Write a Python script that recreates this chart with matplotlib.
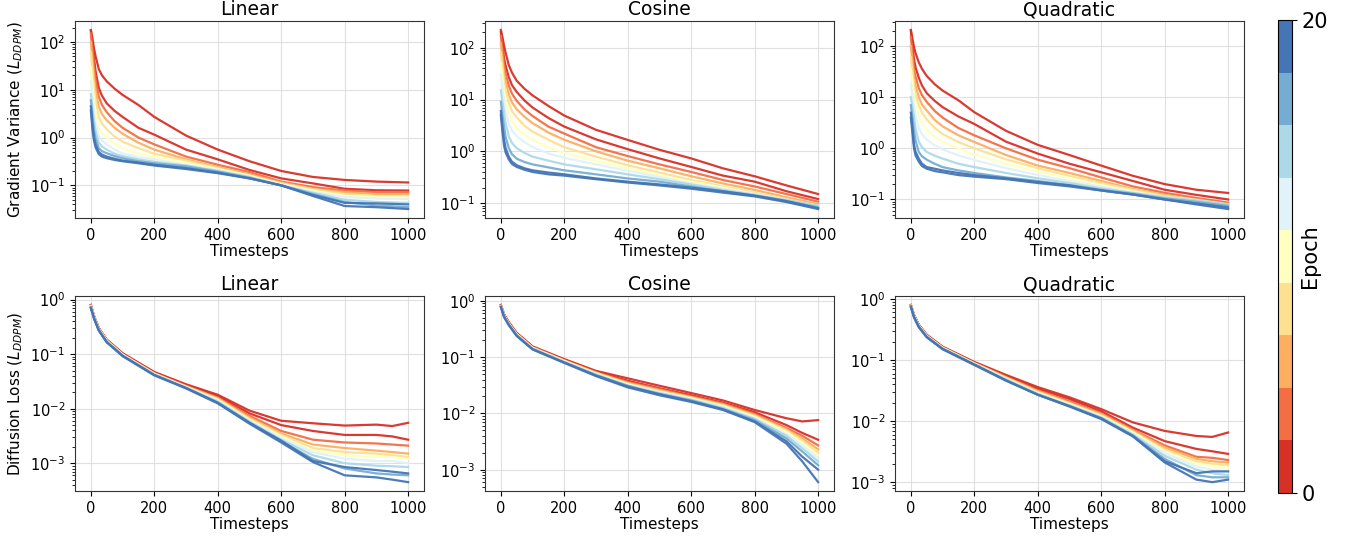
import matplotlib
matplotlib.use("Agg")
import matplotlib.pyplot as plt
from matplotlib.colors import ListedColormap, Normalize
from matplotlib.cm import ScalarMappable

# ---------------- data ----------------
epochs = [0, 2, 4, 6, 8, 10, 12, 14, 16, 18, 20]
t_top = [0, 5, 10, 15, 25, 35, 50, 75, 100, 150, 200, 300, 400, 500, 600, 700, 800, 900, 1000]
t_bot = [0, 10, 25, 50, 100, 200, 300, 400, 500, 600, 700, 800, 900, 950, 1000]
schedules = ["Linear", "Cosine", "Quadratic"]

gv_linear = [
    [178, 120, 72, 50, 27, 20, 15, 10.5, 7.8, 4.8, 2.7, 1.1, 0.56, 0.32, 0.2, 0.15, 0.13, 0.12, 0.115],
    [170, 90, 45, 24, 11, 7.5, 5.2, 3.6, 2.7, 1.6, 1.15, 0.56, 0.35, 0.21, 0.14, 0.11, 0.085, 0.079, 0.078],
    [150, 70, 30, 16, 7.2, 4.8, 3.4, 2.2, 1.6, 1.0, 0.72, 0.4, 0.27, 0.19, 0.12, 0.092, 0.078, 0.072, 0.072],
    [100, 42, 18, 9.5, 4.4, 3.1, 2.3, 1.6, 1.2, 0.78, 0.56, 0.35, 0.24, 0.17, 0.115, 0.085, 0.072, 0.066, 0.066],
    [60, 26, 11, 5.8, 2.7, 1.95, 1.5, 1.05, 0.82, 0.6, 0.46, 0.33, 0.23, 0.16, 0.11, 0.083, 0.066, 0.06, 0.06],
    [30, 13, 6, 3.3, 1.6, 1.25, 1.0, 0.75, 0.6, 0.47, 0.39, 0.3, 0.22, 0.16, 0.105, 0.078, 0.06, 0.057, 0.056],
    [15, 7, 3.5, 2.0, 1.08, 0.87, 0.72, 0.56, 0.47, 0.39, 0.35, 0.27, 0.21, 0.15, 0.105, 0.074, 0.057, 0.053, 0.052],
    [8, 4, 2.2, 1.35, 0.78, 0.65, 0.56, 0.46, 0.41, 0.35, 0.31, 0.26, 0.2, 0.15, 0.1, 0.07, 0.05, 0.045, 0.043],
    [6, 2.7, 1.4, 0.95, 0.6, 0.52, 0.47, 0.41, 0.37, 0.32, 0.29, 0.25, 0.195, 0.145, 0.1, 0.066, 0.045, 0.038, 0.035],
    [4.5, 1.9, 1.0, 0.72, 0.5, 0.44, 0.4, 0.36, 0.33, 0.3, 0.27, 0.23, 0.185, 0.14, 0.1, 0.063, 0.043, 0.042, 0.04],
    [3.7, 1.5, 0.85, 0.62, 0.45, 0.4, 0.37, 0.34, 0.32, 0.29, 0.26, 0.22, 0.18, 0.14, 0.1, 0.06, 0.037, 0.035, 0.032],
]
gv_cosine = [
    [220, 160, 110, 80, 46, 33, 23, 16, 12, 7.5, 4.9, 2.6, 1.66, 1.07, 0.73, 0.47, 0.33, 0.22, 0.15],
    [200, 115, 62, 45, 27, 19, 14, 9.5, 7, 4.4, 3.0, 1.7, 1.1, 0.73, 0.5, 0.34, 0.26, 0.17, 0.12],
    [170, 90, 46, 32, 18.5, 13, 9.4, 6.4, 4.8, 3.0, 2.2, 1.2, 0.81, 0.56, 0.4, 0.28, 0.21, 0.15, 0.107],
    [120, 62, 31, 22, 12.6, 8.8, 6.5, 4.6, 3.5, 2.3, 1.67, 1.0, 0.66, 0.47, 0.33, 0.24, 0.18, 0.13, 0.096],
    [80, 42, 21, 15, 8.7, 6, 4.5, 3.1, 2.4, 1.67, 1.2, 0.79, 0.54, 0.39, 0.28, 0.21, 0.16, 0.12, 0.089],
    [50, 27, 14, 9.5, 5.6, 3.8, 2.8, 2.1, 1.67, 1.2, 0.94, 0.65, 0.47, 0.34, 0.26, 0.2, 0.15, 0.115, 0.085],
    [30, 17, 9.4, 6, 3.5, 2.5, 1.95, 1.5, 1.2, 0.91, 0.75, 0.56, 0.42, 0.32, 0.24, 0.19, 0.15, 0.115, 0.09],
    [15, 9, 5.6, 3.5, 1.95, 1.45, 1.15, 0.93, 0.79, 0.66, 0.56, 0.45, 0.36, 0.29, 0.23, 0.18, 0.145, 0.115, 0.09],
    [9, 5, 3.0, 1.9, 1.15, 0.88, 0.72, 0.62, 0.56, 0.49, 0.43, 0.36, 0.3, 0.26, 0.21, 0.17, 0.14, 0.11, 0.083],
    [6, 3, 1.67, 1.15, 0.79, 0.63, 0.54, 0.47, 0.43, 0.39, 0.36, 0.3, 0.26, 0.23, 0.2, 0.17, 0.14, 0.11, 0.08],
    [5, 2.4, 1.3, 0.95, 0.7, 0.57, 0.5, 0.44, 0.4, 0.36, 0.34, 0.29, 0.25, 0.22, 0.19, 0.16, 0.135, 0.105, 0.077],
]
gv_quadratic = [
    [207, 140, 95, 72, 48, 36, 26, 18, 13.5, 8.7, 5.1, 2.2, 1.17, 0.74, 0.46, 0.29, 0.2, 0.155, 0.134],
    [200, 100, 55, 38, 24, 17, 12, 8.5, 6.4, 4.2, 3.0, 1.35, 0.79, 0.5, 0.34, 0.23, 0.155, 0.123, 0.1],
    [150, 72, 35, 25, 15, 11, 8.1, 5.4, 4.0, 2.5, 1.8, 1.0, 0.6, 0.41, 0.27, 0.18, 0.135, 0.107, 0.087],
    [100, 48, 24, 16.5, 10, 7.2, 5.5, 3.6, 2.7, 1.8, 1.33, 0.74, 0.46, 0.33, 0.23, 0.16, 0.123, 0.1, 0.082],
    [60, 31, 16, 11, 6.9, 5, 3.7, 2.5, 1.9, 1.33, 1.0, 0.61, 0.41, 0.29, 0.21, 0.155, 0.118, 0.098, 0.08],
    [35, 20, 11, 7.3, 4.3, 3.1, 2.3, 1.7, 1.33, 1.0, 0.76, 0.5, 0.35, 0.26, 0.19, 0.145, 0.11, 0.096, 0.078],
    [18, 11, 6.9, 4.3, 2.5, 1.9, 1.48, 1.15, 0.95, 0.73, 0.59, 0.41, 0.3, 0.23, 0.18, 0.138, 0.11, 0.096, 0.078],
    [10, 6.5, 4, 2.4, 1.35, 1.05, 0.85, 0.72, 0.63, 0.5, 0.43, 0.33, 0.26, 0.21, 0.165, 0.135, 0.11, 0.096, 0.08],
    [7, 4, 2.2, 1.4, 0.85, 0.7, 0.6, 0.5, 0.43, 0.37, 0.33, 0.27, 0.23, 0.19, 0.155, 0.13, 0.105, 0.09, 0.075],
    [5, 2.5, 1.17, 0.85, 0.63, 0.5, 0.43, 0.4, 0.37, 0.33, 0.3, 0.26, 0.22, 0.19, 0.15, 0.125, 0.1, 0.084, 0.07],
    [4, 2.0, 1.0, 0.72, 0.55, 0.45, 0.4, 0.36, 0.34, 0.3, 0.28, 0.25, 0.21, 0.18, 0.15, 0.125, 0.1, 0.08, 0.065],
]
dl_linear = [
    [0.8, 0.5, 0.3, 0.185, 0.104, 0.047, 0.028, 0.018, 0.0092, 0.006, 0.0054, 0.0049, 0.0051, 0.0048, 0.0055],
    [0.79, 0.49, 0.3, 0.182, 0.102, 0.046, 0.027, 0.017, 0.0082, 0.005, 0.0039, 0.0033, 0.0033, 0.0031, 0.0027],
    [0.78, 0.49, 0.295, 0.18, 0.1, 0.045, 0.026, 0.016, 0.0074, 0.0039, 0.0027, 0.0024, 0.0023, 0.0022, 0.0021],
    [0.77, 0.48, 0.29, 0.178, 0.099, 0.044, 0.026, 0.0155, 0.0069, 0.0035, 0.0022, 0.0019, 0.0017, 0.0016, 0.0015],
    [0.76, 0.48, 0.29, 0.176, 0.098, 0.044, 0.025, 0.015, 0.0065, 0.0033, 0.0019, 0.0016, 0.0015, 0.0014, 0.0013],
    [0.75, 0.47, 0.285, 0.174, 0.097, 0.043, 0.025, 0.0145, 0.0062, 0.0031, 0.0017, 0.0014, 0.0013, 0.0013, 0.0012],
    [0.74, 0.47, 0.28, 0.172, 0.096, 0.043, 0.025, 0.014, 0.006, 0.0029, 0.0016, 0.0012, 0.0011, 0.0011, 0.001],
    [0.73, 0.46, 0.28, 0.17, 0.095, 0.042, 0.024, 0.0135, 0.0058, 0.0027, 0.0014, 0.001, 0.0009, 0.00088, 0.00085],
    [0.72, 0.46, 0.275, 0.168, 0.094, 0.042, 0.024, 0.013, 0.0056, 0.0025, 0.0012, 0.0008, 0.00065, 0.00062, 0.0006],
    [0.71, 0.45, 0.275, 0.166, 0.093, 0.041, 0.024, 0.0128, 0.0055, 0.0026, 0.0011, 0.00085, 0.00075, 0.0007, 0.00065],
    [0.7, 0.45, 0.27, 0.165, 0.092, 0.041, 0.0235, 0.0125, 0.0053, 0.0024, 0.00105, 0.0006, 0.00055, 0.0005, 0.00045],
]
dl_cosine = [
    [0.85, 0.58, 0.42, 0.27, 0.155, 0.092, 0.057, 0.042, 0.031, 0.023, 0.017, 0.0115, 0.0082, 0.0072, 0.0076],
    [0.84, 0.57, 0.41, 0.265, 0.152, 0.09, 0.055, 0.038, 0.028, 0.021, 0.0155, 0.0105, 0.0062, 0.0045, 0.0034],
    [0.83, 0.56, 0.4, 0.26, 0.15, 0.088, 0.054, 0.036, 0.027, 0.02, 0.015, 0.0098, 0.0055, 0.004, 0.0027],
    [0.82, 0.55, 0.4, 0.258, 0.148, 0.087, 0.053, 0.035, 0.026, 0.0195, 0.0145, 0.0094, 0.0052, 0.0036, 0.0023],
    [0.81, 0.55, 0.39, 0.255, 0.146, 0.086, 0.052, 0.034, 0.025, 0.019, 0.014, 0.009, 0.005, 0.0033, 0.002],
    [0.8, 0.54, 0.39, 0.25, 0.145, 0.085, 0.051, 0.033, 0.024, 0.0185, 0.0135, 0.0087, 0.0047, 0.003, 0.0018],
    [0.8, 0.54, 0.385, 0.248, 0.143, 0.084, 0.05, 0.032, 0.024, 0.018, 0.013, 0.0083, 0.0043, 0.0027, 0.0016],
    [0.79, 0.53, 0.38, 0.245, 0.142, 0.082, 0.049, 0.031, 0.023, 0.0175, 0.0125, 0.008, 0.004, 0.0024, 0.0014],
    [0.79, 0.53, 0.38, 0.243, 0.14, 0.081, 0.048, 0.031, 0.022, 0.017, 0.012, 0.0076, 0.0036, 0.0021, 0.0012],
    [0.78, 0.52, 0.375, 0.24, 0.138, 0.08, 0.047, 0.03, 0.022, 0.0165, 0.0118, 0.0072, 0.0032, 0.0017, 0.001],
    [0.78, 0.52, 0.37, 0.238, 0.137, 0.079, 0.046, 0.029, 0.021, 0.016, 0.0115, 0.007, 0.0029, 0.0014, 0.0006],
]
dl_quadratic = [
    [0.8, 0.55, 0.38, 0.26, 0.165, 0.093, 0.057, 0.036, 0.0245, 0.0157, 0.0095, 0.0069, 0.0057, 0.0055, 0.0065],
    [0.79, 0.54, 0.375, 0.255, 0.163, 0.091, 0.055, 0.034, 0.023, 0.0145, 0.0078, 0.0047, 0.0035, 0.0032, 0.0029],
    [0.78, 0.54, 0.37, 0.252, 0.161, 0.09, 0.053, 0.032, 0.021, 0.0135, 0.0072, 0.004, 0.0026, 0.0025, 0.0023],
    [0.78, 0.53, 0.37, 0.25, 0.16, 0.089, 0.052, 0.031, 0.02, 0.013, 0.007, 0.0037, 0.0024, 0.0022, 0.0021],
    [0.77, 0.53, 0.365, 0.248, 0.158, 0.088, 0.051, 0.03, 0.0195, 0.0125, 0.0067, 0.0034, 0.0022, 0.002, 0.0019],
    [0.77, 0.52, 0.36, 0.246, 0.157, 0.087, 0.05, 0.029, 0.019, 0.012, 0.0065, 0.0032, 0.002, 0.0018, 0.0017],
    [0.76, 0.52, 0.36, 0.244, 0.155, 0.086, 0.049, 0.028, 0.0185, 0.0118, 0.0062, 0.003, 0.0018, 0.0016, 0.0015],
    [0.76, 0.51, 0.355, 0.242, 0.154, 0.085, 0.048, 0.028, 0.018, 0.0115, 0.006, 0.0027, 0.0016, 0.0014, 0.0013],
    [0.75, 0.51, 0.35, 0.24, 0.153, 0.085, 0.047, 0.027, 0.0178, 0.0112, 0.0058, 0.0024, 0.0013, 0.0012, 0.0012],
    [0.75, 0.5, 0.35, 0.238, 0.152, 0.084, 0.046, 0.027, 0.0175, 0.011, 0.0057, 0.0022, 0.0014, 0.0015, 0.0015],
    [0.74, 0.5, 0.345, 0.236, 0.15, 0.083, 0.046, 0.027, 0.0173, 0.0108, 0.0056, 0.0021, 0.0011, 0.001, 0.0011],
]

band_colors = ["#d73027", "#f46d43", "#fdae61", "#fee090", "#ffffbf",
               "#e0f3f8", "#abd9e9", "#74add1", "#4575b4"]

# ---------------- figure ----------------
W, H = 1346, 546
fig = plt.figure(figsize=(W / 100, H / 100), dpi=100)
cmap = ListedColormap(band_colors)
norm = Normalize(vmin=0, vmax=20)

col_left = [75, 485, 895]
ax_w = 349
rows = [(21, 218), (296, 491)]


def make_ax(x0, y0, y1):
    return fig.add_axes([x0 / W, 1 - y1 / H, ax_w / W, (y1 - y0) / H])


panels_top = [gv_linear, gv_cosine, gv_quadratic]
panels_bot = [dl_linear, dl_cosine, dl_quadratic]

for r, (panels, tsteps, ylabel) in enumerate([
        (panels_top, t_top, r"Gradient Variance ($L_{DDPM}$)"),
        (panels_bot, t_bot, r"Diffusion Loss ($L_{DDPM}$)")]):
    y0, y1 = rows[r]
    for c in range(3):
        ax = make_ax(col_left[c], y0, y1)
        data = panels[c]
        for e, vals in zip(epochs, data):
            ax.plot(tsteps, vals, color=cmap(norm(min(e, 19.99))), lw=1.6, alpha=0.95)
        ax.set_yscale("log")
        ax.set_xticks([0, 200, 400, 600, 800, 1000])
        ax.grid(True, which="major", color="#d9d9d9", lw=0.8, alpha=0.8)
        ax.set_axisbelow(True)
        ax.set_title(schedules[c], fontsize=13.5, pad=4)
        ax.set_xlabel("Timesteps", fontsize=11, labelpad=1)
        ax.tick_params(labelsize=10.5)
        for sp in ax.spines.values():
            sp.set_color("#333333")
        if c == 0:
            ax.set_ylabel(ylabel, fontsize=11)

cax = fig.add_axes([1278 / W, 1 - 493 / H, 14 / W, 473 / H])
sm = ScalarMappable(norm=norm, cmap=cmap)
cb = fig.colorbar(sm, cax=cax, ticks=[0, 20])
cb.ax.tick_params(labelsize=15)
cb.set_label("Epoch", fontsize=15, labelpad=-20)

fig.savefig("out.png", dpi=100)
